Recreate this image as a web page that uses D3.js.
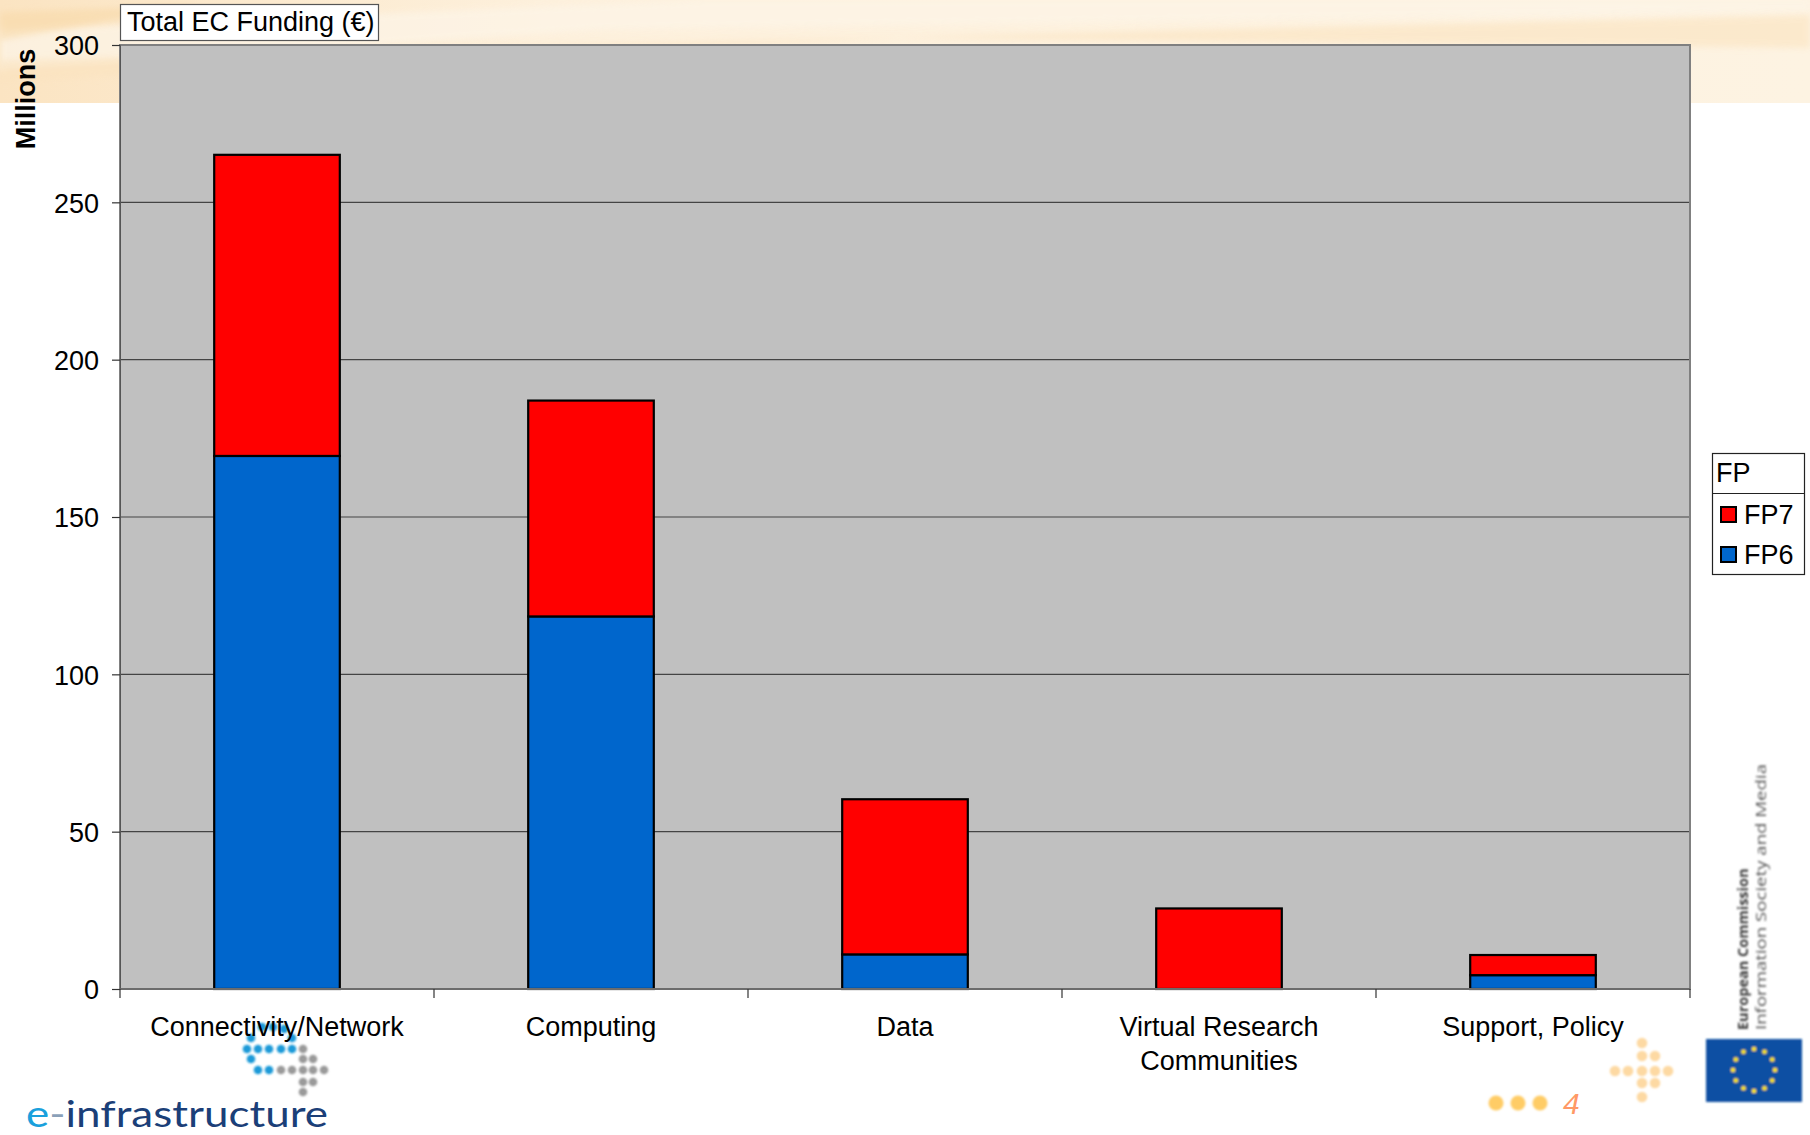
<!DOCTYPE html>
<html>
<head>
<meta charset="utf-8">
<script src="https://cdn.jsdelivr.net/npm/d3@7"></script>
<style>
  html, body { margin: 0; padding: 0; background: #ffffff; }
  svg { display: block; font-family: "Liberation Sans", Arial, sans-serif; }
</style>
</head>
<body>
<svg id="chart" width="1810" height="1135"></svg>
<script>
// Funding per area, in millions of euro
const categories = ["Connectivity/Network", "Computing", "Data", "Virtual Research Communities", "Support, Policy"];
const categoryLines = [["Connectivity/Network"], ["Computing"], ["Data"], ["Virtual Research", "Communities"], ["Support, Policy"]];
const fp6Values = [169.4, 118.4, 11.0, 0, 4.4];
const fp7Values = [95.7, 68.6, 49.3, 25.6, 6.4];
const seriesNames = ["FP7", "FP6"];
const yTicks = [0, 50, 100, 150, 200, 250, 300];

const colors = { FP6: "#0066cc", FP7: "#ff0000" };
const FS = 27;

const svg = d3.select("#chart");
const W = 1810, H = 1135;
const plot = { left: 120, right: 1690, top: 45, bottom: 989 };

// ---- slide background: pale peach band across the top ----
const defs = svg.append("defs");
const g1 = defs.append("linearGradient").attr("id", "band").attr("x1", 0).attr("y1", 0).attr("x2", 1).attr("y2", 0);
g1.append("stop").attr("offset", "0%").attr("stop-color", "#fbe4c2");
g1.append("stop").attr("offset", "30%").attr("stop-color", "#fdf0dc");
g1.append("stop").attr("offset", "100%").attr("stop-color", "#fdf3e2");
const blur = defs.append("filter").attr("id", "soft").attr("x", "-10%").attr("y", "-50%").attr("width", "120%").attr("height", "200%");
blur.append("feGaussianBlur").attr("stdDeviation", 3);
const blur2 = defs.append("filter").attr("id", "soft2");
blur2.append("feGaussianBlur").attr("stdDeviation", 0.8);

svg.append("rect").attr("x", 0).attr("y", 0).attr("width", W).attr("height", 103).attr("fill", "url(#band)");
svg.append("path").attr("d", "M0,30 L700,0 L1810,0 L1810,12 L600,30 L0,70 Z").attr("fill", "#fdf4e6").attr("opacity", 0.8).attr("filter", "url(#soft)");
svg.append("path").attr("d", "M0,60 L300,52 L1810,15 L1810,48 L900,38 L0,82 Z").attr("fill", "#fbe3bf").attr("opacity", 0.6).attr("filter", "url(#soft)");
svg.append("path").attr("d", "M0,12 L200,5 L0,40 Z").attr("fill", "#f8d9a8").attr("opacity", 0.6).attr("filter", "url(#soft)");

// ---- scales ----
const x = d3.scaleBand().domain(categories).range([plot.left, plot.right]).paddingInner(0).paddingOuter(0);
const y = d3.scaleLinear().domain([0, 300]).range([plot.bottom, plot.top]);
const barW = x.bandwidth() * 0.4;

// plot area
svg.append("rect")
  .attr("x", plot.left).attr("y", plot.top)
  .attr("width", plot.right - plot.left).attr("height", plot.bottom - plot.top)
  .attr("fill", "#c0c0c0");

// gridlines
svg.append("g").selectAll("line").data(yTicks.filter(d => d > 0 && d < 300)).join("line")
  .attr("x1", plot.left).attr("x2", plot.right)
  .attr("y1", d => y(d)).attr("y2", d => y(d))
  .attr("stroke", "#444").attr("stroke-width", 1.2);

// stacked bars
const rows = categories.map((c, i) => ({ cat: c, FP6: fp6Values[i], FP7: fp7Values[i] }));
const stack = d3.stack().keys(["FP6", "FP7"])(rows);
const barG = svg.append("g");
stack.forEach(layer => {
  barG.append("g").selectAll("rect").data(layer.filter(d => d[1] - d[0] > 0)).join("rect")
    .attr("x", d => x(d.data.cat) + (x.bandwidth() - barW) / 2)
    .attr("width", barW)
    .attr("y", d => y(d[1]))
    .attr("height", d => y(d[0]) - y(d[1]))
    .attr("fill", colors[layer.key])
    .attr("stroke", "#000").attr("stroke-width", 2.2);
});

// plot border
svg.append("rect")
  .attr("x", plot.left).attr("y", plot.top)
  .attr("width", plot.right - plot.left).attr("height", plot.bottom - plot.top)
  .attr("fill", "none").attr("stroke", "#808080").attr("stroke-width", 2);

// y axis
const yAxis = d3.axisLeft(y).tickValues(yTicks).tickSize(8).tickPadding(13);
const yG = svg.append("g").attr("transform", `translate(${plot.left},0)`).call(yAxis);
yG.select(".domain").attr("stroke", "#555");
yG.selectAll(".tick line").attr("stroke", "#333").attr("stroke-width", 1.2);
yG.selectAll(".tick text").attr("font-size", FS).attr("fill", "#000").attr("dy", "0.36em")
  .attr("font-family", "Liberation Sans, Arial, sans-serif");

// x axis: ticks at category boundaries
const boundaries = categories.map(c => x(c)).concat([plot.right]);
const xG = svg.append("g");
xG.append("line").attr("x1", plot.left).attr("x2", plot.right).attr("y1", plot.bottom).attr("y2", plot.bottom)
  .attr("stroke", "#666").attr("stroke-width", 1.5);
xG.selectAll("line.tk").data(boundaries).join("line").attr("class", "tk")
  .attr("x1", d => d).attr("x2", d => d).attr("y1", plot.bottom).attr("y2", plot.bottom + 9)
  .attr("stroke", "#333").attr("stroke-width", 1.2);

// ---- e-infrastructure logo (drawn beneath the category labels) ----
const logo = svg.append("g").attr("filter", "url(#soft2)");
const blueDots = [[262, 1027], [273, 1027], [284, 1029], [251, 1038], [292, 1038],
  [247, 1049], [258, 1049], [269, 1049], [281, 1049], [292, 1049],
  [251, 1059], [258, 1070], [269, 1070]];
const grayDots = [[303, 1049], [303, 1059], [313, 1059], [281, 1070], [292, 1070], [303, 1070], [313, 1070], [324, 1070],
  [303, 1082], [313, 1082], [303, 1092]];
logo.selectAll("circle.b").data(blueDots).join("circle").attr("class", "b")
  .attr("cx", d => d[0]).attr("cy", d => d[1]).attr("r", 4.3).attr("fill", "#1a9ad8");
logo.selectAll("circle.g").data(grayDots).join("circle").attr("class", "g")
  .attr("cx", d => d[0]).attr("cy", d => d[1]).attr("r", 4.3).attr("fill", "#9a9a9a");
const logoText = svg.append("text").attr("x", 26).attr("y", 1127)
  .attr("font-family", "Lato, 'Open Sans', sans-serif").attr("font-weight", 400).attr("font-size", 37)
  .attr("textLength", 302).attr("lengthAdjust", "spacingAndGlyphs");
logoText.append("tspan").attr("fill", "#1aa0dc").text("e");
logoText.append("tspan").attr("fill", "#8aa0b8").text("-");
logoText.append("tspan").attr("fill", "#1b3f78").text("infrastructure");

// category labels
const labelG = svg.append("g").attr("font-size", FS).attr("fill", "#000").attr("text-anchor", "middle");
categories.forEach((c, i) => {
  const cx = x(c) + x.bandwidth() / 2;
  const t = labelG.append("text").attr("x", cx).attr("y", 1036);
  categoryLines[i].forEach((line, j) => {
    t.append("tspan").attr("x", cx).attr("dy", j === 0 ? 0 : 34).text(line);
  });
});

// y-axis title
svg.append("text").attr("transform", "translate(35,99) rotate(-90)")
  .attr("text-anchor", "middle").attr("font-size", 27).attr("font-weight", "bold").text("Millions");

// chart title box
svg.append("rect").attr("x", 120.5).attr("y", 4.5).attr("width", 258).attr("height", 36)
  .attr("fill", "#fff").attr("stroke", "#555").attr("stroke-width", 1.2);
svg.append("text").attr("x", 127).attr("y", 31).attr("font-size", FS).attr("fill", "#000").text("Total EC Funding (€)");

// legend
const lg = svg.append("g");
lg.append("rect").attr("x", 1712.5).attr("y", 453.5).attr("width", 92).attr("height", 121)
  .attr("fill", "#fff").attr("stroke", "#222").attr("stroke-width", 1.2);
lg.append("line").attr("x1", 1712.5).attr("x2", 1804.5).attr("y1", 493.5).attr("y2", 493.5)
  .attr("stroke", "#222").attr("stroke-width", 1.2);
lg.append("text").attr("x", 1716).attr("y", 482).attr("font-size", FS).text("FP");
seriesNames.forEach((name, i) => {
  const yy = 507 + i * 40;
  lg.append("rect").attr("x", 1721).attr("y", yy).attr("width", 15).attr("height", 15)
    .attr("fill", colors[name]).attr("stroke", "#000").attr("stroke-width", 2);
  lg.append("text").attr("x", 1744).attr("y", yy + 17).attr("font-size", FS).text(name);
});

// ---- footer decorations: page marker, orange cross, EU emblem ----
const foot = svg.append("g").attr("filter", "url(#soft2)");
[1496, 1518, 1540].forEach(cx => foot.append("circle").attr("cx", cx).attr("cy", 1103).attr("r", 7.5).attr("fill", "#ffcc66"));
svg.append("text").attr("x", 1563).attr("y", 1114).attr("font-size", 30).attr("font-style", "italic")
  .attr("fill", "#ff9966").text("4");
const crossDots = [[1642, 1043], [1642, 1056], [1655, 1056], [1615, 1071], [1628, 1071], [1642, 1071], [1655, 1071], [1668, 1071],
  [1642, 1083], [1655, 1083], [1642, 1097]];
foot.selectAll("circle.c").data(crossDots).join("circle").attr("class", "c")
  .attr("cx", d => d[0]).attr("cy", d => d[1]).attr("r", 5.3).attr("fill", "#fdd9a3");

foot.append("rect").attr("x", 1706).attr("y", 1039).attr("width", 96).attr("height", 63).attr("fill", "#0d4fa3");
d3.range(12).forEach(k => {
  const a = k / 12 * 2 * Math.PI;
  foot.append("circle").attr("cx", 1754 + 21 * Math.sin(a)).attr("cy", 1070 - 21 * Math.cos(a))
    .attr("r", 2.3).attr("fill", "#ffe600");
});
const ec = svg.append("g").attr("font-family", "'Open Sans', 'DejaVu Sans', sans-serif").attr("fill", "#3a3a3a").attr("filter", "url(#soft2)");
ec.append("text").attr("transform", "translate(1748,1030) rotate(-90)").attr("font-size", 14.5).attr("font-weight", "bold")
  .text("European Commission");
ec.append("text").attr("transform", "translate(1766,1030) rotate(-90)").attr("font-size", 14.5).attr("fill", "#555")
  .attr("textLength", 266).attr("lengthAdjust", "spacingAndGlyphs")
  .text("Information Society and Media");
</script>
</body>
</html>
